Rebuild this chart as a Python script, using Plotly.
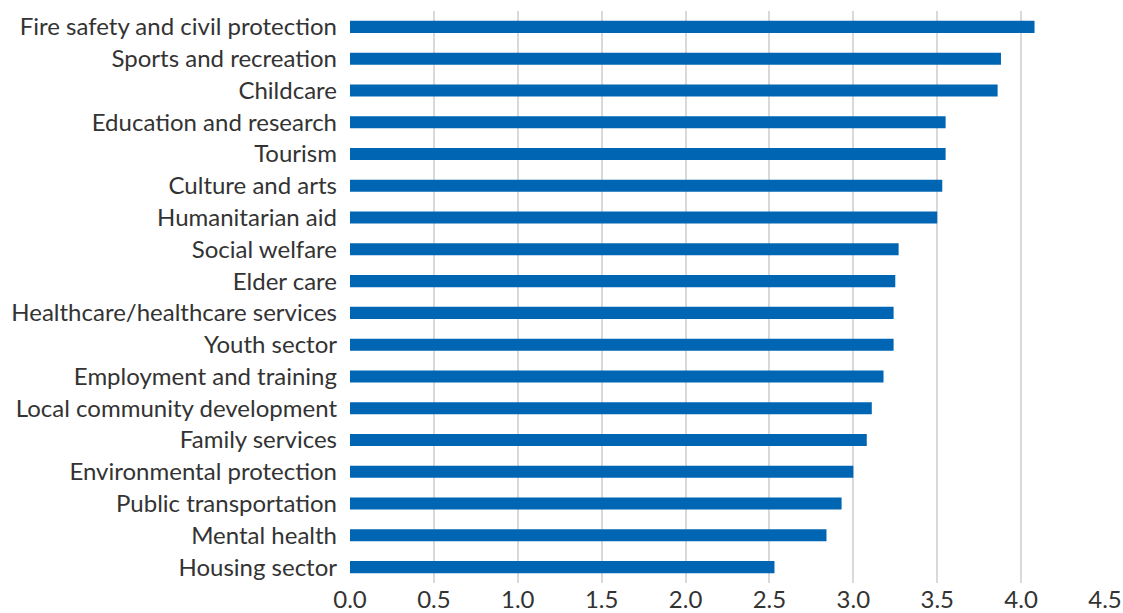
import plotly.graph_objects as go

# Average rating per service area
categories = [
    "Fire safety and civil protection",
    "Sports and recreation",
    "Childcare",
    "Education and research",
    "Tourism",
    "Culture and arts",
    "Humanitarian aid",
    "Social welfare",
    "Elder care",
    "Healthcare/healthcare services",
    "Youth sector",
    "Employment and training",
    "Local community development",
    "Family services",
    "Environmental protection",
    "Public transportation",
    "Mental health",
    "Housing sector",
]
values = [4.08, 3.88, 3.86, 3.55, 3.55, 3.53, 3.50, 3.27, 3.25, 3.24,
          3.24, 3.18, 3.11, 3.08, 3.00, 2.93, 2.84, 2.53]
tick_values = [0.0, 0.5, 1.0, 1.5, 2.0, 2.5, 3.0, 3.5, 4.0, 4.5]
tick_labels = ["0.0", "0.5", "1.0", "1.5", "2.0", "2.5", "3.0", "3.5", "4.0", "4.5"]

fig = go.Figure(
    go.Bar(
        x=values,
        y=categories,
        orientation="h",
        marker=dict(color="#0066B3", line=dict(width=0)),
        hoverinfo="x+y",
    )
)

fig.update_layout(
    width=1123,
    height=613,
    margin=dict(l=350, r=18, t=11, b=30, autoexpand=False),
    paper_bgcolor="white",
    plot_bgcolor="white",
    bargap=0.62,
    showlegend=False,
    font=dict(family="Lato", size=24, color="#333333"),
)

fig.update_xaxes(
    range=[0, 4.5],
    tickvals=tick_values,
    ticktext=tick_labels,
    showgrid=True,
    gridcolor="#D9D9D9",
    gridwidth=1.5,
    zeroline=False,
    showline=False,
    ticks="",
    automargin=False,
    tickfont=dict(size=24, color="#333333"),
)

fig.update_yaxes(
    categoryorder="array",
    categoryarray=categories,
    autorange="reversed",
    showgrid=False,
    zeroline=False,
    showline=False,
    ticks="",
    automargin=False,
    ticklabelstandoff=12,
    tickfont=dict(size=24, color="#333333"),
)

fig.write_html("out.html")
